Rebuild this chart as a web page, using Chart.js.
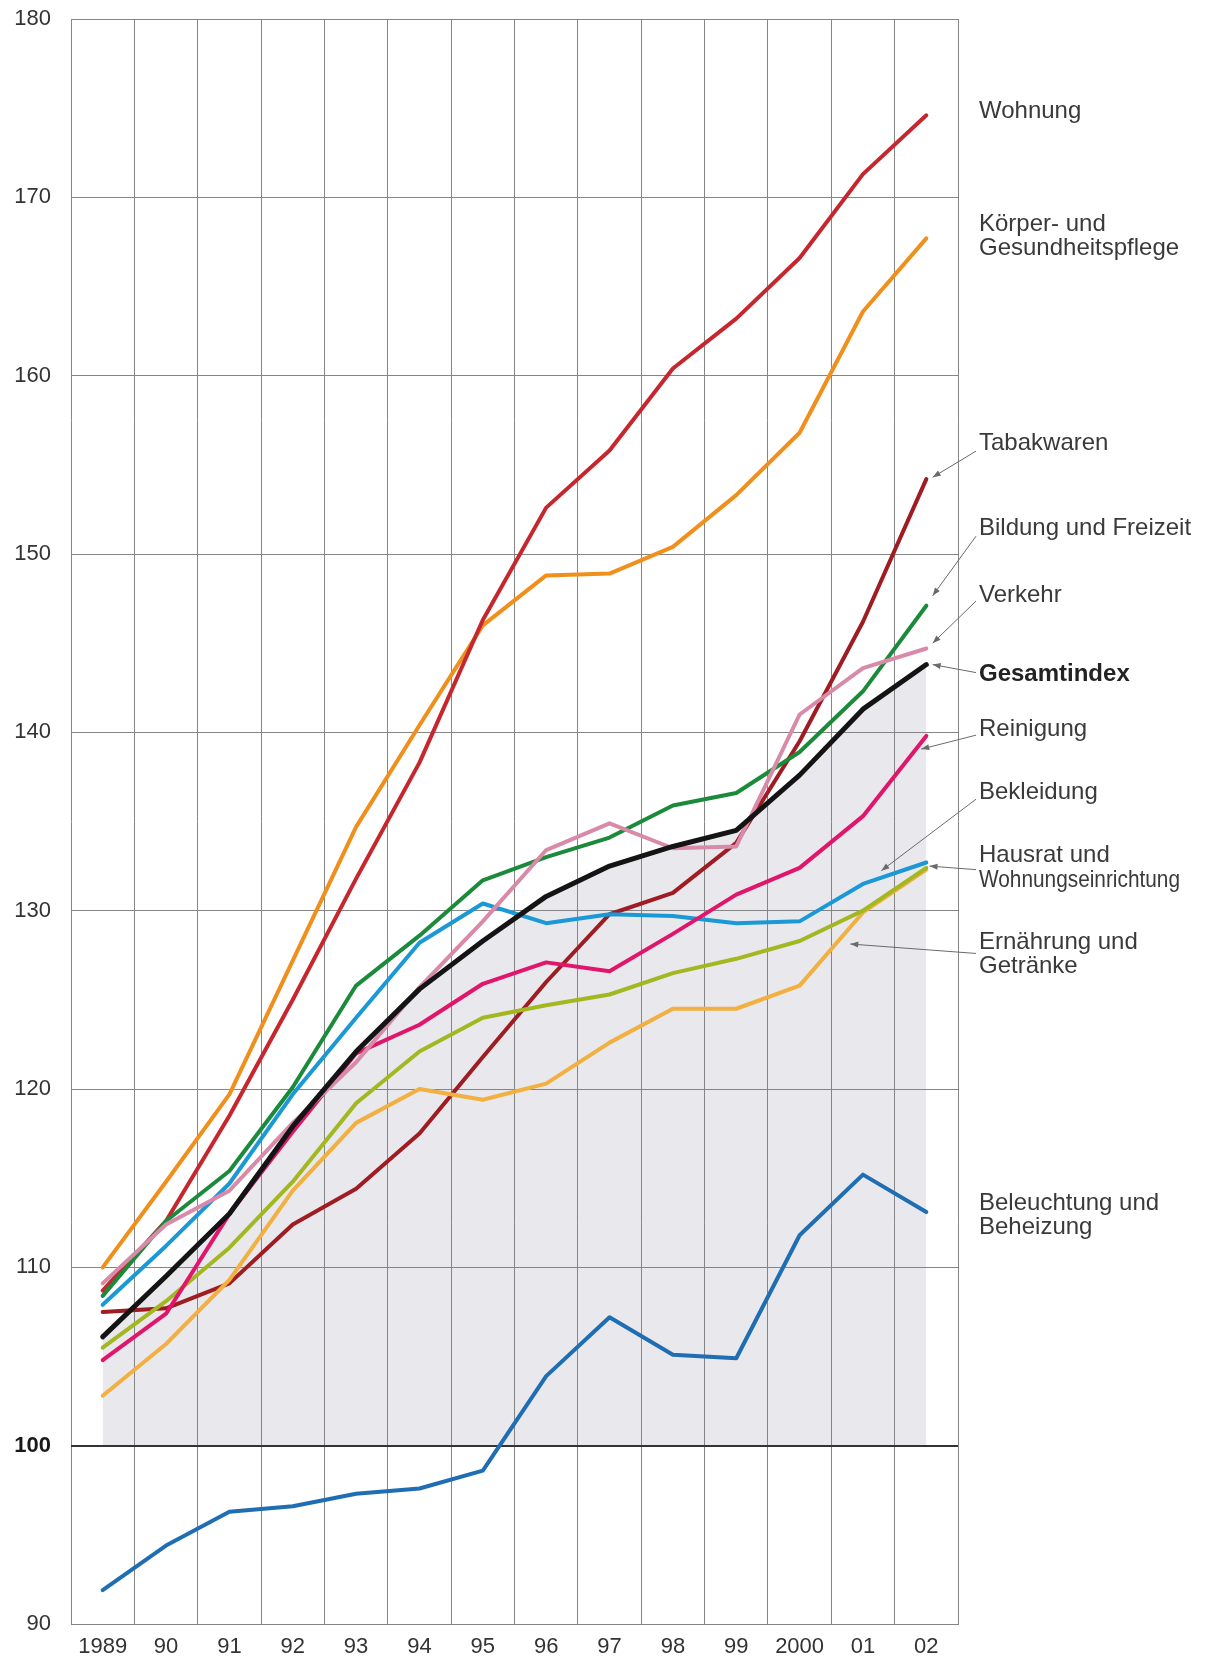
<!DOCTYPE html>
<html lang="de">
<head>
    <meta charset="UTF-8">
    <title>Preisindex für die Lebenshaltung</title>
    <script src="https://cdn.jsdelivr.net/npm/chart.js"></script>
    <style>
        html, body { margin: 0; padding: 0; background: #ffffff; }
        #chart { display: block; }
    </style>
</head>
<body>
    <canvas id="chart" width="1207" height="1660"></canvas>

    <script>
        // Jahre (Kategorien)
        var years = ['1989', '90', '91', '92', '93', '94', '95', '96', '97', '98', '99', '2000', '01', '02'];
        var yTicks = [90, 100, 110, 120, 130, 140, 150, 160, 170, 180];

        // Indexwerte je Gruppe
        var wohnung     = [108.7, 112.6, 118.5, 125.0, 131.8, 138.3, 146.3, 152.6, 155.8, 160.4, 163.2, 166.6, 171.3, 174.6];
        var koerper     = [110.0, 114.8, 119.7, 127.2, 134.7, 140.4, 146.0, 148.8, 148.9, 150.4, 153.3, 156.8, 163.6, 167.7];
        var tabak       = [107.5, 107.7, 109.1, 112.4, 114.4, 117.5, 121.8, 126.0, 129.8, 131.0, 133.8, 139.5, 146.2, 154.2];
        var bildung     = [108.4, 112.6, 115.4, 120.1, 125.8, 128.6, 131.7, 133.0, 134.1, 135.9, 136.6, 138.9, 142.3, 147.1];
        var verkehr     = [109.1, 112.4, 114.3, 118.1, 121.5, 125.7, 129.4, 133.4, 134.9, 133.5, 133.6, 141.0, 143.6, 144.7];
        var gesamt      = [106.1, 109.5, 113.0, 117.9, 122.1, 125.6, 128.3, 130.8, 132.5, 133.6, 134.5, 137.6, 141.3, 143.8];
        var reinigung   = [104.8, 107.4, 113.0, 117.6, 122.0, 123.6, 125.9, 127.1, 126.6, 128.7, 130.9, 132.4, 135.3, 139.8];
        var bekleidung  = [107.9, 111.2, 114.7, 119.7, 124.0, 128.2, 130.4, 129.3, 129.8, 129.7, 129.3, 129.4, 131.5, 132.7];
        var hausrat     = [105.5, 108.1, 111.1, 114.8, 119.2, 122.1, 124.0, 124.7, 125.3, 126.5, 127.3, 128.3, 130.0, 132.4];
        var ernaehrung  = [102.8, 105.7, 109.3, 114.3, 118.1, 120.0, 119.4, 120.3, 122.6, 124.5, 124.5, 125.8, 129.9, 132.3];
        var beleuchtung = [91.9, 94.4, 96.3, 96.6, 97.3, 97.6, 98.6, 103.9, 107.2, 105.1, 104.9, 111.8, 115.2, 113.1];

        var FONT = '"Liberation Sans", Arial, Helvetica, sans-serif';

        // Beschriftungen rechts (y = Lage auf der Indexachse)
        var sideLabels = [
            { lines: ['Wohnung'], y: 174.8 },
            { lines: ['Körper- und', 'Gesundheitspflege'], y: 167.8 },
            { lines: ['Tabakwaren'], y: 156.2 },
            { lines: ['Bildung und Freizeit'], y: 151.45 },
            { lines: ['Verkehr'], y: 147.7 },
            { lines: ['Gesamtindex'], y: 143.25, bold: true },
            { lines: ['Reinigung'], y: 140.15 },
            { lines: ['Bekleidung'], y: 136.65 },
            { lines: ['Hausrat und', 'Wohnungseinrichtung'], y: 132.4, squeeze: true },
            { lines: ['Ernährung und', 'Getränke'], y: 127.55 },
            { lines: ['Beleuchtung und', 'Beheizung'], y: 112.9 }
        ];

        // Hinweispfeile: von (Indexhöhe) zu (Kategorie-Position, Indexhöhe)
        var arrows = [
            { from: 155.77, at: 13.1, to: 154.3 },
            { from: 151.0, at: 13.1, to: 147.66 },
            { from: 147.36, at: 13.1, to: 145.0 },
            { from: 143.35, at: 13.1, to: 143.8 },
            { from: 139.84, at: 12.92, to: 139.06 },
            { from: 136.25, at: 12.29, to: 132.24 },
            { from: 132.3, at: 13.05, to: 132.5 },
            { from: 127.6, at: 11.8, to: 128.13 }
        ];

        function series(data, color, width) {
            return {
                data: data,
                borderColor: color,
                borderWidth: width || 4,
                fill: false,
                pointRadius: 0
            };
        }

        var gesamtSet = series(gesamt, '#141414', 5);
        gesamtSet.fill = { value: 100 };
        gesamtSet.backgroundColor = '#e8e8ed';

        // Seitenbeschriftung und Pfeile
        var sidePlugin = {
            id: 'sideLabels',
            afterDraw: function (chart) {
                var ctx = chart.ctx;
                var area = chart.chartArea;
                var x = chart.scales.x, y = chart.scales.y;
                var step = x.getPixelForValue(1) - x.getPixelForValue(0);
                var tx = area.right + 21;

                ctx.save();
                ctx.strokeStyle = '#6a6a6a';
                ctx.fillStyle = '#6a6a6a';
                ctx.lineWidth = 1;
                arrows.forEach(function (a) {
                    var x0 = area.right + 18, y0 = y.getPixelForValue(a.from);
                    var x1 = x.getPixelForValue(0) + a.at * step, y1 = y.getPixelForValue(a.to);
                    var ang = Math.atan2(y1 - y0, x1 - x0);
                    ctx.beginPath();
                    ctx.moveTo(x0, y0);
                    ctx.lineTo(x1, y1);
                    ctx.stroke();
                    ctx.beginPath();
                    ctx.moveTo(x1, y1);
                    ctx.lineTo(x1 - 8 * Math.cos(ang) + 3 * Math.sin(ang), y1 - 8 * Math.sin(ang) - 3 * Math.cos(ang));
                    ctx.lineTo(x1 - 8 * Math.cos(ang) - 3 * Math.sin(ang), y1 - 8 * Math.sin(ang) + 3 * Math.cos(ang));
                    ctx.closePath();
                    ctx.fill();
                });

                ctx.textAlign = 'left';
                ctx.textBaseline = 'middle';
                var lh = 24.5;
                sideLabels.forEach(function (l) {
                    ctx.font = (l.bold ? 'bold ' : '') + '24px ' + FONT;
                    ctx.fillStyle = l.bold ? '#222222' : '#3a3a3a';
                    var cy = y.getPixelForValue(l.y) - (l.lines.length - 1) * lh / 2;
                    l.lines.forEach(function (t, i) {
                        if (l.squeeze && t.length > 14) {
                            ctx.fillText(t, tx, cy + i * lh, 201);
                        } else {
                            ctx.fillText(t, tx, cy + i * lh);
                        }
                    });
                });
                ctx.restore();
            }
        };

        var ctx = document.getElementById('chart').getContext('2d');
        var chart = new Chart(ctx, {
            type: 'line',
            data: {
                labels: years,
                datasets: [
                    gesamtSet,
                    series(verkehr, '#d98aa8'),
                    series(bildung, '#1b8a3b'),
                    series(reinigung, '#e0156b'),
                    series(bekleidung, '#1b98d6'),
                    series(hausrat, '#a3b820'),
                    series(ernaehrung, '#f2b040'),
                    series(tabak, '#9e1c22'),
                    series(wohnung, '#c6262d'),
                    series(koerper, '#f08f1b'),
                    series(beleuchtung, '#1f6db2')
                ]
            },
            options: {
                responsive: false,
                animation: false,
                devicePixelRatio: 1,
                layout: { padding: { top: 19, right: 249, bottom: 0, left: 0 } },
                plugins: {
                    legend: { display: false },
                    tooltip: { enabled: false },
                    filler: { drawTime: 'beforeDraw' }
                },
                elements: {
                    line: { tension: 0, borderJoinStyle: 'round', borderCapStyle: 'round' },
                    point: { radius: 0 }
                },
                scales: {
                    x: {
                        type: 'category',
                        offset: true,
                        grid: { offset: true, color: '#858585', lineWidth: 1, drawTicks: false },
                        border: { color: '#858585', width: 1 },
                        ticks: {
                            padding: 10,
                            color: '#333333',
                            autoSkip: false,
                            maxRotation: 0,
                            font: { family: FONT, size: 22 }
                        },
                        afterFit: function (s) { s.height = 36; s.paddingLeft = 0; s.paddingRight = 0; }
                    },
                    y: {
                        min: 90,
                        max: 180,
                        afterBuildTicks: function (s) {
                            s.ticks = yTicks.map(function (v) { return { value: v }; });
                        },
                        grid: {
                            drawTicks: false,
                            color: function (c) { return c.tick && c.tick.value === 100 ? '#333333' : '#858585'; },
                            lineWidth: function (c) { return c.tick && c.tick.value === 100 ? 2 : 1; }
                        },
                        border: { display: false },
                        ticks: {
                            padding: 20,
                            color: function (c) { return c.tick && c.tick.value === 100 ? '#1a1a1a' : '#333333'; },
                            font: function (c) {
                                return { family: FONT, size: 22, weight: c.tick && c.tick.value === 100 ? 'bold' : 'normal' };
                            }
                        },
                        afterFit: function (s) { s.width = 71; s.paddingTop = 0; s.paddingBottom = 0; }
                    }
                }
            },
            plugins: [sidePlugin]
        });
    </script>
</body>
</html>
